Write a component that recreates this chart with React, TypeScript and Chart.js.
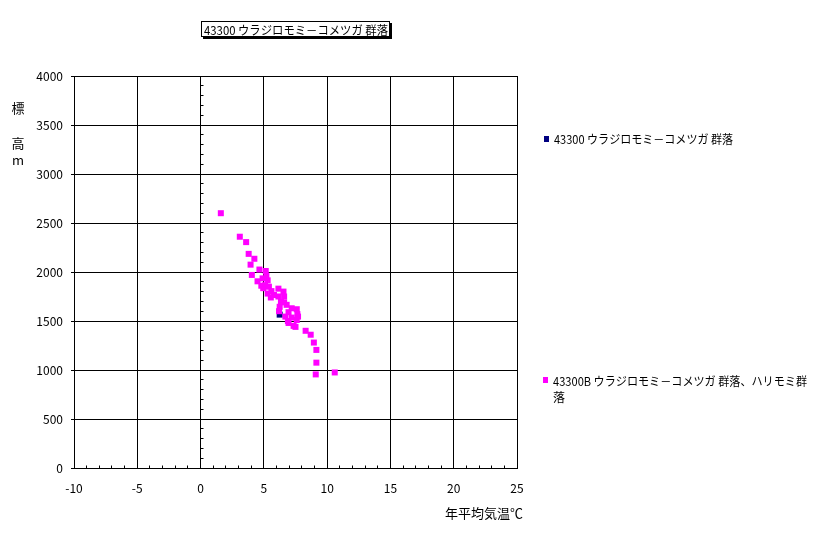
import React, { useEffect, useRef } from "react";
import { Chart, registerables } from "chart.js";

Chart.register(...registerables);

const CHART_TITLE = "43300 ウラジロモミ－コメツガ 群落";
const SERIES_A_LABEL = "43300 ウラジロモミ－コメツガ 群落";
const SERIES_B_LABEL_LINES = ["43300B ウラジロモミ－コメツガ 群落、ハリモミ群", "落"];
const X_TITLE = "年平均気温℃";
const Y_TITLE_LINES = ["標", "高", "m"];

const X_MIN = -10;
const X_MAX = 25;
const X_STEP = 5;
const Y_MIN = 0;
const Y_MAX = 4000;
const Y_STEP = 500;

const seriesAX = [6.25];
const seriesAY = [1565];

const seriesBX = [
  1.6, 3.1, 3.6, 3.8, 4.25, 3.95, 4.65, 5.15, 4.05, 5.2, 4.9, 4.5, 5.3, 4.8, 5.1, 5.4,
  4.95, 6.15, 5.6, 6.55, 5.3, 5.8, 6.15, 6.6, 5.55, 6.35, 6.6, 6.25, 6.8, 7.2, 7.6,
  6.2, 6.95, 7.65, 6.7, 7.2, 7.7, 6.9, 7.6, 7.35, 6.95, 7.5, 8.3, 8.7, 8.95, 9.15,
  9.15, 9.1, 10.6,
];
const seriesBY = [
  2600, 2360, 2305, 2185, 2135, 2075, 2025, 2010, 1970, 1960, 1935, 1905, 1915, 1860, 1865, 1850,
  1835, 1830, 1805, 1800, 1780, 1765, 1750, 1750, 1740, 1695, 1690, 1645, 1665, 1630, 1620,
  1600, 1590, 1570, 1545, 1535, 1545, 1500, 1510, 1450, 1480, 1440, 1400, 1360, 1280, 1205,
  1075, 955, 975,
];

const COLOR_A = "#000080";
const COLOR_B = "#FF00FF";
const FONT = "'Noto Sans CJK JP', 'Noto Sans', sans-serif";

const decorPlugin = {
  id: "decor",
  afterDraw(chart: any) {
    const ctx = chart.ctx as CanvasRenderingContext2D;
    const xs = chart.scales.x;
    const ys = chart.scales.y;
    const ca = chart.chartArea;
    ctx.save();
    ctx.strokeStyle = "#000";
    ctx.lineWidth = 1;
    ctx.beginPath();
    const x0 = Math.round(xs.getPixelForValue(0) - 0.5) + 0.5;
    for (let v = Y_MIN + 100; v < Y_MAX; v += 100) {
      if (v % Y_STEP === 0) continue;
      const y = Math.round(ys.getPixelForValue(v) - 0.5) + 0.5;
      ctx.moveTo(x0, y);
      ctx.lineTo(x0 + 3, y);
    }
    const yb = Math.round(ca.bottom - 0.5) + 0.5;
    for (let t = X_MIN + 1; t < X_MAX; t++) {
      if (t % X_STEP === 0) continue;
      const x = Math.round(xs.getPixelForValue(t) - 0.5) + 0.5;
      ctx.moveTo(x, yb);
      ctx.lineTo(x, yb - 3);
    }
    ctx.stroke();

    // Title box with shadow
    ctx.fillStyle = "#000";
    ctx.fillRect(203, 23, 189, 16);
    ctx.fillStyle = "#fff";
    ctx.fillRect(201, 21, 189, 16);
    ctx.strokeStyle = "#000";
    ctx.strokeRect(201.5, 21.5, 188, 15);
    ctx.fillStyle = "#000";
    ctx.font = `12px ${FONT}`;
    ctx.textBaseline = "middle";
    ctx.textAlign = "left";
    ctx.fillText(CHART_TITLE, 204, 30, 184);

    // Axis titles
    ctx.font = `13px ${FONT}`;
    ctx.textAlign = "center";
    ctx.fillText(X_TITLE, 484, 513, 82);
    const yPos = [108, 143, 160];
    Y_TITLE_LINES.forEach((s, i) => ctx.fillText(s, 18, yPos[i]));

    // Legend
    ctx.font = `12px ${FONT}`;
    ctx.textAlign = "left";
    ctx.fillStyle = COLOR_A;
    ctx.fillRect(544, 136, 5, 6);
    ctx.fillStyle = "#000";
    ctx.fillText(SERIES_A_LABEL, 554, 139, 179);
    ctx.fillStyle = COLOR_B;
    ctx.fillRect(543, 377, 5, 6);
    ctx.fillStyle = "#000";
    ctx.fillText(SERIES_B_LABEL_LINES[0], 553, 381, 254);
    ctx.fillText(SERIES_B_LABEL_LINES[1], 553, 397);
    ctx.restore();
  },
};

export default function App() {
  const ref = useRef<HTMLCanvasElement | null>(null);
  useEffect(() => {
    if (!ref.current) return;
    const dataA = seriesAX.map((x, i) => ({ x, y: seriesAY[i] }));
    const dataB = seriesBX.map((x, i) => ({ x, y: seriesBY[i] }));
    const chart = new Chart(ref.current, {
      type: "scatter",
      data: {
        datasets: [
          {
            label: SERIES_A_LABEL,
            data: dataA,
            backgroundColor: COLOR_A,
            borderWidth: 0,
            pointStyle: "rect",
            pointRadius: 4.25,
            pointHoverRadius: 4.25,
            order: 1,
          },
          {
            label: SERIES_B_LABEL_LINES.join(""),
            data: dataB,
            backgroundColor: COLOR_B,
            borderWidth: 0,
            pointStyle: "rect",
            pointRadius: 4.25,
            pointHoverRadius: 4.25,
            order: 0,
          },
        ],
      },
      options: {
        responsive: false,
        animation: false,
        devicePixelRatio: 1,
        events: [],
        layout: { padding: { left: 0, top: 76, right: 299, bottom: 0 } },
        plugins: {
          legend: { display: false },
          tooltip: { enabled: false },
          title: { display: false },
        },
        scales: {
          x: {
            type: "linear",
            min: X_MIN,
            max: X_MAX,
            afterFit: (s: any) => {
              s.height = 66;
            },
            ticks: {
              stepSize: X_STEP,
              color: "#000",
              font: { family: FONT, size: 12 },
              padding: 13,
              maxRotation: 0,
              callback: (v: any) => String(v),
            },
            grid: { color: "#000", lineWidth: 1, drawTicks: false },
            border: { display: true, color: "#000", width: 1 },
          },
          y: {
            type: "linear",
            min: Y_MIN,
            max: Y_MAX,
            afterFit: (s: any) => {
              s.width = 74;
            },
            ticks: {
              stepSize: Y_STEP,
              color: "#000",
              font: { family: FONT, size: 12 },
              padding: 8,
              callback: (v: any) => String(v),
            },
            grid: { color: "#000", lineWidth: 1, drawTicks: true, tickLength: 3 },
            border: { display: true, color: "#000", width: 1 },
          },
        },
      },
      plugins: [decorPlugin],
    });
    return () => chart.destroy();
  }, []);
  return (
    <div style={{ position: "absolute", left: 0, top: 0, width: 816, height: 534, background: "#fff" }}>
      <canvas ref={ref} width={816} height={534} style={{ display: "block" }} />
    </div>
  );
}
